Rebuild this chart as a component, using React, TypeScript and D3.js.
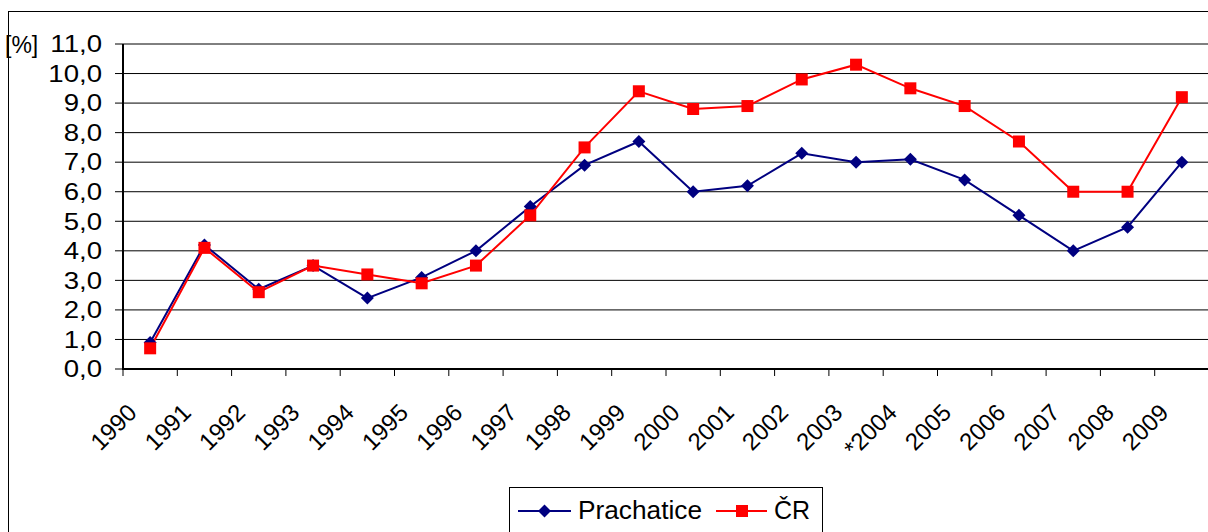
import React from "react";
import * as d3 from "d3";

const years = ["1990","1991","1992","1993","1994","1995","1996","1997","1998","1999","2000","2001","2002","2003","*2004","2005","2006","2007","2008","2009"];
const prachatice = [0.9,4.2,2.7,3.5,2.4,3.1,4.0,5.5,6.9,7.7,6.0,6.2,7.3,7.0,7.1,6.4,5.2,4.0,4.8,7.0];
const cr = [0.7,4.1,2.6,3.5,3.2,2.9,3.5,5.2,7.5,9.4,8.8,8.9,9.8,10.3,9.5,8.9,7.7,6.0,6.0,9.2];
const yTicks = [0,1,2,3,4,5,6,7,8,9,10,11];
const seriesNames = ["Prachatice", "ČR"];

const FONT = "'Liberation Sans', Arial, sans-serif";
const BLUE = "#000080";
const RED = "#FF0000";

export default function App() {
  const W = 1208, H = 532;
  const left = 123, right = 1209, top = 44, bottom = 369;
  const x = d3.scaleBand<string>().domain(years).range([left, right]).padding(0);
  const y = d3.scaleLinear().domain([0, 11]).range([bottom, top]);
  const cx = (i: number) => (x(years[i]) as number) + x.bandwidth() / 2;
  const line = d3.line<number>().x((_, i) => cx(i)).y(d => y(d));
  const fmt = (v: number) => v.toFixed(1).replace(".", ",");
  const diamond = (px: number, py: number, r: number) =>
    `M${px},${py - r}L${px + r},${py}L${px},${py + r}L${px - r},${py}Z`;

  return (
    <svg width={W} height={H} style={{ position: "absolute", left: 0, top: 0, fontFamily: FONT }}>
      <rect x={0} y={0} width={W} height={H} fill="#fff" />
      <rect x={8.5} y={11.5} width={1210} height={540} fill="none" stroke="#000" strokeWidth={1} />
      {/* gridlines */}
      {yTicks.filter(t => t > 0).map(t => (
        <line key={"g" + t} x1={left} x2={W} y1={y(t)} y2={y(t)} stroke="#000" strokeWidth={1} />
      ))}
      {/* y ticks */}
      {yTicks.map(t => (
        <line key={"yt" + t} x1={115} x2={left} y1={y(t)} y2={y(t)} stroke="#000" strokeWidth={1} />
      ))}
      {yTicks.map(t => (
        <text key={"yl" + t} transform={`translate(102, ${y(t) + 8.3}) scale(1.2,1)`} textAnchor="end" fontSize={23} fill="#000">
          {fmt(t)}
        </text>
      ))}
      <text x={5} y={53} fontSize={23} fill="#000">[%]</text>
      {/* x ticks */}
      {years.concat(["end"]).map((yr, i) => {
        const px = left + i * x.bandwidth();
        return <line key={"xt" + i} x1={px} x2={px} y1={bottom} y2={bottom + 7} stroke="#000" strokeWidth={1} />;
      })}
      {/* axes */}
      <line x1={left} x2={left} y1={top} y2={bottom + 1} stroke="#000" strokeWidth={2} />
      <line x1={left - 1} x2={W} y1={bottom} y2={bottom} stroke="#000" strokeWidth={2} />
      {/* x labels */}
      {years.map((yr, i) => (
        <text key={"xl" + i} transform={`translate(${cx(i) - 12}, 414) rotate(-45)`} textAnchor="end" fontSize={24} fill="#000">
          {yr}
        </text>
      ))}
      {/* series */}
      <path d={line(prachatice) || ""} fill="none" stroke={BLUE} strokeWidth={2} />
      <path d={line(cr) || ""} fill="none" stroke={RED} strokeWidth={2} />
      {prachatice.map((v, i) => (
        <path key={"p" + i} d={diamond(cx(i), y(v), 6.5)} fill={BLUE} />
      ))}
      {cr.map((v, i) => (
        <rect key={"c" + i} x={cx(i) - 6} y={y(v) - 6} width={12} height={12} fill={RED} />
      ))}
      {/* legend */}
      <rect x={509.5} y={487.5} width={313} height={60} fill="#fff" stroke="#000" strokeWidth={1} />
      <line x1={518} x2={571} y1={511} y2={511} stroke={BLUE} strokeWidth={2} />
      <path d={diamond(544.5, 511, 6.5)} fill={BLUE} />
      <text x={578} y={518.5} fontSize={25} fill="#000" textLength={124} lengthAdjust="spacingAndGlyphs">{seriesNames[0]}</text>
      <line x1={716} x2={767} y1={511} y2={511} stroke={RED} strokeWidth={2} />
      <rect x={736} y={505} width={12} height={12} fill={RED} />
      <text x={774} y={518.5} fontSize={25} fill="#000">{seriesNames[1]}</text>
    </svg>
  );
}
